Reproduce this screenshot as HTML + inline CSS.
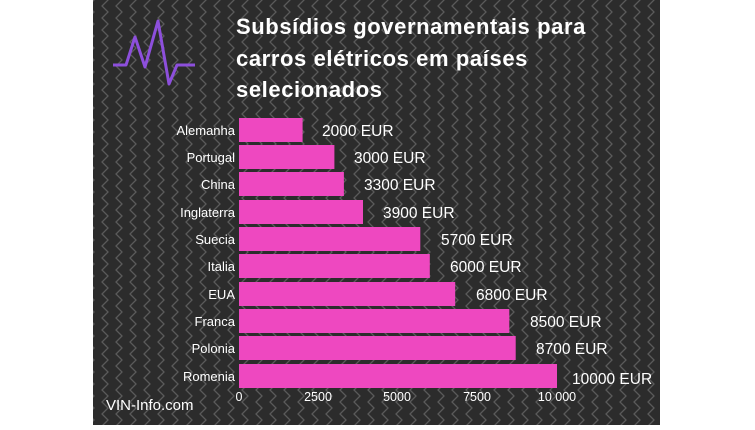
<!DOCTYPE html>
<html><head><meta charset="utf-8"><style>
body{margin:0;background:#fff;}
svg text{font-family:"Liberation Sans",sans-serif;}
</style></head><body>
<svg width="755" height="425" xmlns="http://www.w3.org/2000/svg">
<defs>
<pattern id="zz" width="14" height="12" patternUnits="userSpaceOnUse">
<rect width="14" height="12" fill="#2c2c2c"/>
<path d="M4,-6 L10,0 L4,6 L10,12 L4,18" fill="none" stroke="#5a5a5a" stroke-width="1.3"/>
</pattern>
</defs>
<rect x="93" y="0" width="567" height="425" fill="url(#zz)"/>
<polyline points="113,65 126,65 135,37 145,67 158,21 169,84 177,65 195,65" fill="none" stroke="#8d4fdc" stroke-width="3" stroke-linejoin="round"/>
<g fill="#fff" font-weight="bold" font-size="22" letter-spacing="0.6">
<text x="236" y="34">Subsídios governamentais para</text>
<text x="236" y="66">carros elétricos em países</text>
<text x="236" y="97">selecionados</text>
</g>
<g font-size="13" fill="#fff" text-anchor="end">
<text x="235" y="135">Alemanha</text>
<text x="235" y="162">Portugal</text>
<text x="235" y="189">China</text>
<text x="235" y="217">Inglaterra</text>
<text x="235" y="244">Suecia</text>
<text x="235" y="271">Italia</text>
<text x="235" y="299">EUA</text>
<text x="235" y="326">Franca</text>
<text x="235" y="353">Polonia</text>
<text x="235" y="381">Romenia</text>
</g>
<g fill="#ee48c0">
<rect x="239" y="118" width="63.6" height="24"/>
<rect x="239" y="145" width="95.4" height="24"/>
<rect x="239" y="172" width="104.9" height="24"/>
<rect x="239" y="200" width="124" height="24"/>
<rect x="239" y="227" width="181.3" height="24"/>
<rect x="239" y="254" width="190.8" height="24"/>
<rect x="239" y="282" width="216.2" height="24"/>
<rect x="239" y="309" width="270.3" height="24"/>
<rect x="239" y="336" width="276.7" height="24"/>
<rect x="239" y="364" width="318" height="24"/>
</g>
<g font-size="15.5" fill="#fff">
<text x="322" y="136">2000 EUR</text>
<text x="354" y="163">3000 EUR</text>
<text x="364" y="190">3300 EUR</text>
<text x="383" y="218">3900 EUR</text>
<text x="441" y="245">5700 EUR</text>
<text x="450" y="272">6000 EUR</text>
<text x="476" y="300">6800 EUR</text>
<text x="530" y="327">8500 EUR</text>
<text x="536" y="354">8700 EUR</text>
<text x="572" y="384">10000 EUR</text>
</g>
<g font-size="12.5" fill="#fff" text-anchor="middle">
<text x="239" y="401">0</text>
<text x="318" y="401">2500</text>
<text x="397" y="401">5000</text>
<text x="477" y="401">7500</text>
<text x="557" y="401">10 000</text>
</g>
<text x="106" y="410" font-size="15" fill="#fff">VIN-Info.com</text>
</svg>
</body></html>
